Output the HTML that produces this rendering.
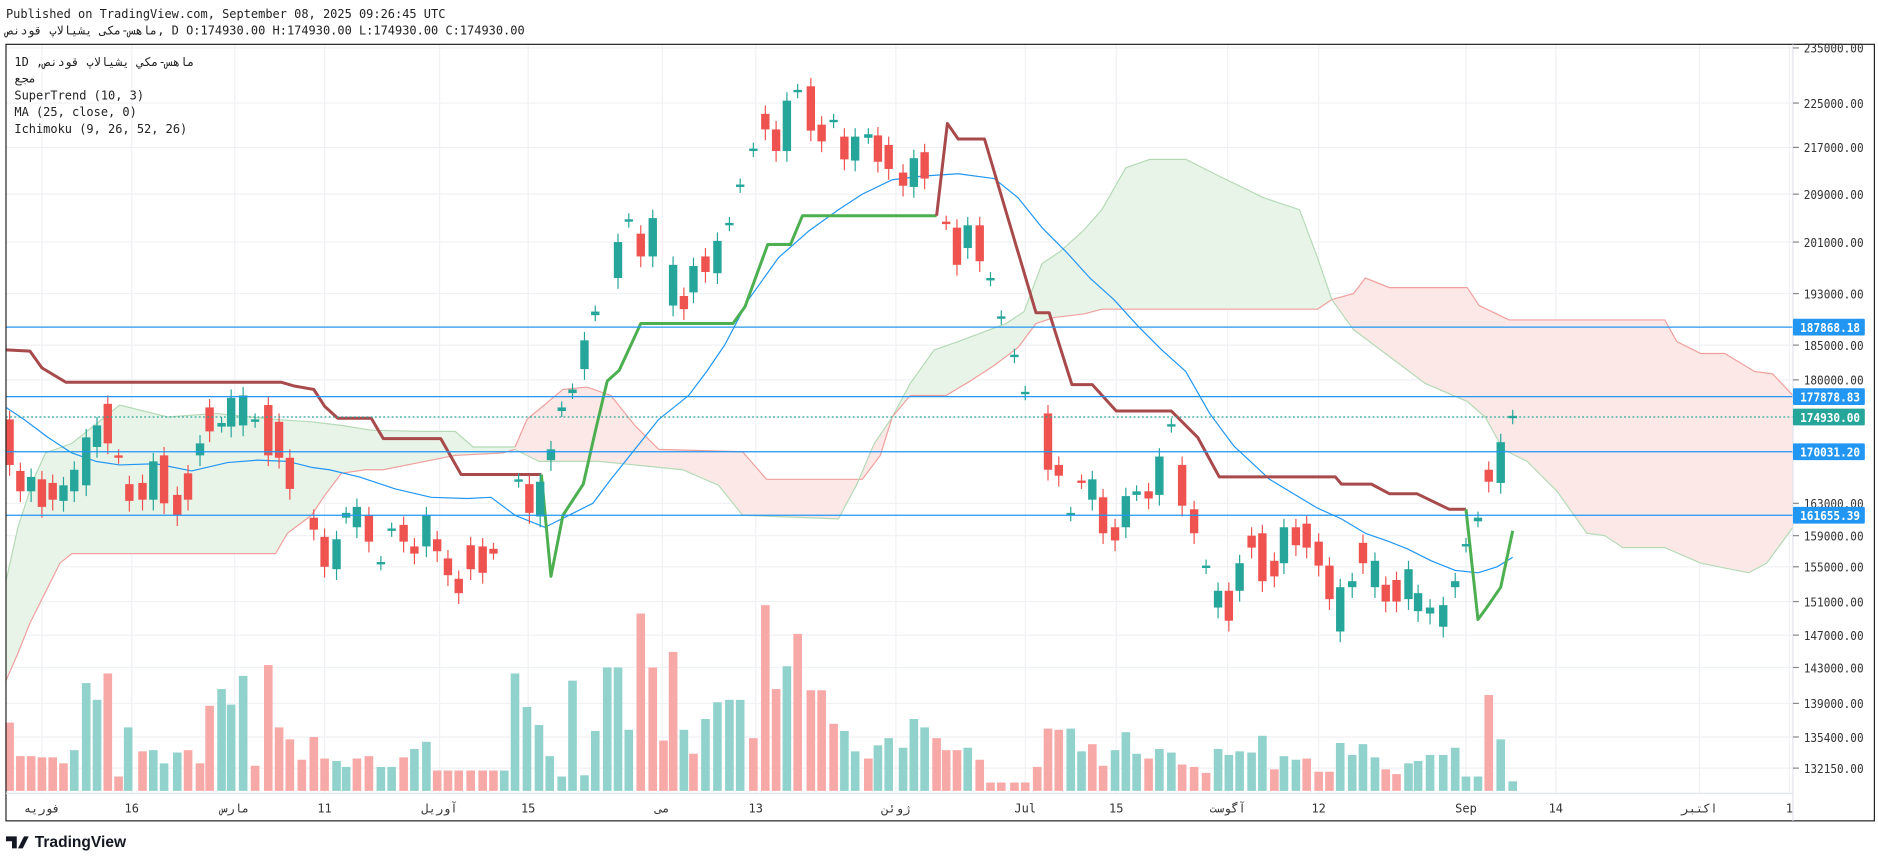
<!DOCTYPE html>
<html><head><meta charset="utf-8"><style>
html,body{margin:0;padding:0;background:#fff;width:1878px;height:858px;overflow:hidden}
svg{display:block}
text{font-family:"DejaVu Sans Mono","Liberation Mono","Noto Sans CJK SC",monospace;}
</style></head><body>
<svg id="s" width="1878" height="858" viewBox="0 0 1568 716" preserveAspectRatio="none" xmlns="http://www.w3.org/2000/svg">
<rect width="1568" height="716" fill="#fff"/>
<g id="grid" stroke="#f0f1f4" stroke-width="1"></g>
<g id="cloud"></g>
<g id="vol"></g>
<g id="lines" fill="none"></g>
<g id="candles"></g>
<g id="hl"></g>
<rect x="5" y="37" width="1560" height="648" fill="none" stroke="#222" stroke-width="1"/>
<line x1="1497" y1="37" x2="1497" y2="685" stroke="#e0e3eb"/>
<line x1="5" y1="662" x2="1497" y2="662" stroke="#e0e3eb"/>
<g id="axis" font-size="10" fill="#333"></g>
<g font-size="10" fill="#222">
<text x="5" y="15">Published on TradingView.com, September 08, 2025 09:26:45 UTC</text>
<text x="5" y="29">ماهس-مکی یشیالاپ قودنص, D O:174930.00 H:174930.00 L:174930.00 C:174930.00</text>
<text x="12" y="55">1D ,ماهس-مكي يشيالاپ قودنص</text>
<text x="12" y="69">مجع</text>
<text x="12" y="83">SuperTrend (10, 3)</text>
<text x="12" y="97">MA (25, close, 0)</text>
<text x="12" y="111">Ichimoku (9, 26, 52, 26)</text>
</g>
<g transform="translate(5,694)">
<path d="M0 4 h9 v10 h-4 v-6 h-5z M10 14 l5 -10 h4 l-5 10z" fill="#131722"/>
<text x="24" y="13" font-weight="bold" font-size="13" fill="#131722" style="font-family:'Liberation Sans',sans-serif">TradingView</text>
</g>
</svg>
<script>
const NS="http://www.w3.org/2000/svg";
function el(p,t,a){const e=document.createElementNS(NS,t);for(const k in a)e.setAttribute(k,a[k]);document.getElementById(p).appendChild(e);return e;}
const ty=[40,86,123,162,202,245,288,317,348,377,420,447,473,502,530,557,587,615,641];
ty.forEach(y=>el('grid','line',{x1:5,x2:1497,y1:y,y2:y}));
const tx=[[35,'فوریه'],[110,'16'],[196,'مارس'],[271,'11'],[367,'آوریل'],[441,'15'],[553,'می'],[631,'13'],[748,'ژوئن'],[856,'Jul'],[932,'15'],[1025,'آگوست'],[1101,'12'],[1224,'Sep'],[1299,'14'],[1419,'اکتبر'],[1494,'1']];
tx.forEach(([x,t])=>{el('grid','line',{x1:x,x2:x,y1:37,y2:662});const e=el('axis','text',{x:x,y:678,'text-anchor':'middle'});e.textContent=t;});
const pl=[[40,'235000.00'],[86,'225000.00'],[123,'217000.00'],[162,'209000.00'],[202,'201000.00'],[245,'193000.00'],[288,'185000.00'],[317,'180000.00'],[420,'163000.00'],[447,'159000.00'],[473,'155000.00'],[502,'151000.00'],[530,'147000.00'],[557,'143000.00'],[587,'139000.00'],[615,'135400.00'],[641,'132150.00']];
pl.forEach(([y,t])=>{el('axis','line',{x1:1497,x2:1502,y1:y,y2:y,stroke:'#888'});const e=el('axis','text',{x:1506,y:y+4,textLength:50,lengthAdjust:'spacingAndGlyphs'});e.textContent=t;});
function poly(top,bot,fill,tc,bc){const pts=top.concat(bot.slice().reverse()).map(p=>p.join(',')).join(' ');el('cloud','polygon',{points:pts,fill:fill});
el('cloud','polyline',{points:top.map(p=>p.join(',')).join(' '),fill:'none',stroke:tc,'stroke-width':1});
el('cloud','polyline',{points:bot.map(p=>p.join(',')).join(' '),fill:'none',stroke:bc,'stroke-width':1});}
const G='#e9f4e9',R='#fce8e7',GL='#b5dab6',RL='#efa09e';
poly([[5,485],[15,440],[28,400],[38,378],[60,370],[100,338],[140,348],[180,345],[230,350],[260,352],[285,355],[310,359],[350,360],[380,360],[395,373],[430,373]],
 [[5,568],[15,545],[25,520],[40,490],[50,470],[60,462],[230,462],[240,445],[260,430],[270,415],[285,395],[305,392],[320,392],[350,386],[380,380],[420,378],[430,375]],G,GL,RL);
poly([[430,373],[440,350],[470,325],[490,323],[510,330],[530,355],[550,375],[620,377],[640,400],[720,400],[735,380],[745,348]],
 [[430,375],[450,385],[500,385],[570,392],[600,405],[620,430],[700,433],[715,405],[730,370],[745,348]],R,RL,GL);
poly([[745,348],[760,320],[780,292],[800,285],[840,270],[855,260],[870,220],[885,210],[905,192],[920,175],[940,140],[960,133],[990,133],[1020,148],[1055,165],[1085,175],[1100,215],[1112,250]],
 [[745,348],[760,330],[790,330],[810,318],[830,305],[850,290],[865,270],[880,265],[905,262],[920,258],[1100,258],[1112,250]],G,GL,RL);
poly([[1112,250],[1130,245],[1140,232],[1160,240],[1225,240],[1235,255],[1260,267],[1390,267],[1400,285],[1420,295],[1440,295],[1465,310],[1480,312],[1497,330]],
 [[1112,250],[1130,275],[1150,290],[1190,320],[1225,335],[1240,348],[1255,375],[1275,385],[1300,410],[1325,445],[1340,447],[1355,457],[1390,457],[1420,470],[1460,478],[1475,470],[1497,440]],R,RL,GL);
const V=[[8,'r',603],[17,'r',631],[26,'r',631],[35,'r',632],[44,'r',632],[53,'r',637],[62,'g',626],[72,'g',570],[81,'g',584],[90,'r',562],[99,'r',648],[107,'g',607],[119,'r',627],[128,'g',626],[137,'g',637],[148,'g',628],[157,'r',626],[167,'r',637],[175,'r',589],[185,'g',575],[193,'g',588],[203,'g',564],[213,'r',639],[224,'r',555],[233,'r',607],[242,'r',617],[252,'r',634],[262,'r',615],[271,'r',633],[281,'g',635],[289,'g',640],[298,'r',633],[308,'r',631],[318,'g',640],[327,'g',640],[337,'r',632],[346,'g',625],[356,'g',619],[365,'r',643],[374,'r',643],[383,'r',643],[393,'r',643],[403,'r',643],[412,'r',643],[421,'g',643],[430,'g',562],[440,'g',590],[450,'g',605],[459,'g',631],[469,'g',648],[478,'g',568],[488,'g',647],[497,'g',610],[507,'g',557],[516,'g',557],[525,'g',609],[535,'r',512],[545,'r',557],[554,'r',618],[562,'r',544],[571,'g',609],[579,'r',629],[589,'g',600],[599,'g',586],[609,'g',584],[618,'g',584],[629,'r',616],[639,'r',505],[648,'r',575],[657,'g',556],[666,'r',529],[677,'r',576],[686,'r',576],[696,'r',604],[705,'g',610],[714,'g',627],[725,'r',633],[733,'g',622],[742,'g',616],[754,'g',624],[763,'g',600],[772,'g',607],[782,'r',616],[790,'r',626],[799,'r',626],[808,'g',624],[818,'r',634],[827,'r',653],[836,'r',653],[847,'r',653],[856,'r',653],[866,'r',640],[875,'r',608],[884,'r',609],[894,'g',608],[903,'g',627],[912,'r',621],[921,'r',639],[931,'g',626],[940,'g',611],[949,'g',629],[959,'r',633],[968,'g',625],[978,'g',628],[987,'r',638],[997,'r',640],[1007,'r',645],[1017,'g',625],[1026,'g',630],[1035,'g',627],[1045,'g',628],[1054,'g',614],[1064,'r',642],[1072,'g',631],[1082,'g',634],[1091,'r',633],[1101,'r',644],[1110,'r',644],[1119,'g',620],[1129,'g',630],[1138,'g',621],[1148,'g',632],[1157,'r',642],[1166,'r',646],[1176,'g',637],[1184,'g',635],[1194,'g',630],[1205,'g',630],[1215,'g',624],[1224,'g',648],[1234,'g',648],[1243,'r',580],[1253,'g',617],[1263,'g',652]];
V.forEach(([x,c,y])=>el('vol','rect',{x:x-3.6,y:y,width:7.2,height:660-y,fill:c=='g'?'#92d2cc':'#f7a9a7'}));
function pl2(pts,col,w){el('lines','polyline',{points:pts.map(p=>p.join(',')).join(' '),stroke:col,'stroke-width':w,'stroke-linejoin':'round'});}
pl2([[5,340],[20,350],[40,365],[60,378],[80,385],[100,388],[130,387],[160,393],[190,386],[215,384],[240,385],[260,390],[275,392],[300,398],[330,408],[360,415],[390,416],[410,415],[430,430],[455,440],[475,430],[495,420],[510,400],[530,375],[550,350],[575,330],[590,310],[605,288],[625,250],[650,215],[675,193],[700,175],[720,162],[745,150],[770,147],[800,145],[830,149],[850,165],[870,190],[890,210],[910,232],[930,250],[950,272],[970,292],[990,310],[1010,345],[1030,372],[1060,400],[1080,412],[1100,424],[1120,433],[1140,445],[1160,452],[1175,458],[1195,468],[1215,476],[1234,478],[1250,473],[1263,465]],'#2196f3',1);
const SR='#a84a4c',SG='#4caf50';
pl2([[5,292],[25,293],[35,307],[55,319],[235,319],[245,322],[262,325],[271,339],[282,349],[310,349],[320,366],[368,366],[385,396],[452,396]],SR,2.5);
pl2([[452,396],[460,481],[470,430],[487,404],[497,360],[507,318],[517,309],[535,270],[612,270],[622,256],[641,204],[660,204],[670,180],[782,180]],SG,2.5);
pl2([[782,180],[791,103],[800,116],[822,116],[865,261],[876,261],[895,321],[912,321],[932,343],[978,343],[1000,365],[1018,398],[1115,398],[1120,404],[1145,404],[1160,412],[1183,412],[1210,425],[1224,425]],SR,2.5);
pl2([[1224,425],[1234,517],[1242,506],[1253,490],[1263,443]],SG,2.5);
const C=[[8,350,388,'r'],[17,393,410,'r'],[26,398,410,'g'],[35,400,423,'r'],[44,403,417,'r'],[53,405,418,'g'],[62,392,410,'g'],[72,365,405,'g'],[81,355,373,'g'],[90,337,370,'r'],[99,380,382,'r'],[108,404,418,'r'],[119,403,417,'r'],[128,385,417,'g'],[137,380,420,'r'],[148,413,430,'r'],[157,395,417,'r'],[167,370,380,'g'],[175,340,360,'r'],[185,353,356,'g'],[193,332,356,'g'],[203,330,355,'g'],[213,350,352,'g'],[224,338,380,'r'],[233,352,382,'r'],[242,382,408,'r'],[262,432,442,'r'],[271,448,473,'r'],[281,450,475,'g'],[289,428,432,'g'],[298,423,440,'g'],[308,430,452,'r'],[318,469,471,'g'],[327,441,443,'g'],[337,438,452,'r'],[346,456,462,'r'],[356,430,456,'g'],[365,450,460,'r'],[374,466,480,'r'],[383,483,495,'r'],[393,455,475,'r'],[403,456,478,'r'],[412,458,462,'r'],[433,400,402,'g'],[442,404,428,'r'],[451,402,431,'g'],[460,375,384,'g'],[469,340,343,'g'],[478,325,328,'g'],[488,284,308,'g'],[497,260,263,'g'],[516,202,232,'g'],[525,183,185,'g'],[535,195,214,'r'],[545,182,214,'g'],[562,221,255,'g'],[571,247,258,'r'],[579,222,244,'g'],[589,214,227,'r'],[599,201,228,'g'],[609,186,188,'g'],[618,154,156,'g'],[629,124,126,'g'],[639,95,108,'r'],[648,108,126,'r'],[657,84,126,'g'],[666,75,77,'g'],[677,72,109,'r'],[686,104,118,'r'],[696,100,102,'g'],[705,114,133,'r'],[714,114,134,'g'],[725,112,115,'g'],[733,113,135,'r'],[742,121,141,'r'],[754,144,155,'r'],[763,132,156,'g'],[772,127,149,'r'],[790,185,187,'r'],[799,190,221,'r'],[808,188,207,'g'],[818,188,218,'r'],[827,232,234,'g'],[836,264,266,'g'],[847,296,298,'g'],[856,327,329,'g'],[875,345,392,'r'],[884,388,397,'r'],[894,428,430,'g'],[903,401,403,'r'],[912,400,417,'g'],[921,415,445,'r'],[931,440,451,'r'],[940,414,440,'g'],[949,410,413,'g'],[959,410,416,'r'],[968,381,413,'g'],[978,354,356,'g'],[987,388,422,'r'],[997,425,445,'r'],[1007,472,474,'g'],[1017,493,507,'g'],[1026,493,518,'r'],[1035,470,493,'g'],[1045,447,457,'r'],[1054,445,485,'r'],[1064,468,481,'r'],[1072,440,470,'g'],[1082,440,455,'r'],[1091,437,457,'r'],[1101,452,472,'r'],[1110,472,500,'r'],[1119,490,527,'g'],[1129,485,490,'g'],[1138,453,470,'r'],[1148,468,490,'g'],[1157,488,502,'r'],[1166,484,502,'r'],[1176,475,500,'g'],[1184,495,510,'g'],[1194,507,512,'g'],[1205,505,523,'g'],[1215,485,490,'g'],[1224,454,456,'g'],[1234,432,435,'g'],[1243,392,402,'r'],[1253,369,403,'g'],[1263,347,349,'g']];
C.forEach(([x,a,b,c])=>{const col=c=='g'?'#26a69a':'#ef5350';const h=Math.max(b-a,1.5);const small=(b-a)<5;
el('candles','line',{x1:x,x2:x,y1:a-(small?5:7),y2:b+(small?5:9),stroke:col,'stroke-width':1});
el('candles','rect',{x:x-3.5,y:a,width:7,height:h,fill:col});});
[[273,'187868.18','#2196f3'],[331,'177878.83','#2196f3'],[377,'170031.20','#2196f3'],[430,'161655.39','#2196f3']].forEach(([y,t,c])=>{
el('hl','line',{x1:5,x2:1497,y1:y,y2:y,stroke:c,'stroke-width':1});
el('axis','rect',{x:1497,y:y-7,width:60,height:14,fill:c,rx:1});
const e=el('axis','text',{x:1503,y:y+4,fill:'#fff','font-weight':'bold',textLength:50,lengthAdjust:'spacingAndGlyphs'});e.textContent=t;});
el('hl','line',{x1:5,x2:1497,y1:348,y2:348,stroke:'#26a69a','stroke-width':1,'stroke-dasharray':'1.5,2'});
el('axis','rect',{x:1497,y:341,width:60,height:14,fill:'#26a69a',rx:1});
{const e=el('axis','text',{x:1503,y:352,fill:'#fff','font-weight':'bold',textLength:50,lengthAdjust:'spacingAndGlyphs'});e.textContent='174930.00';}
</script>
</body></html>
